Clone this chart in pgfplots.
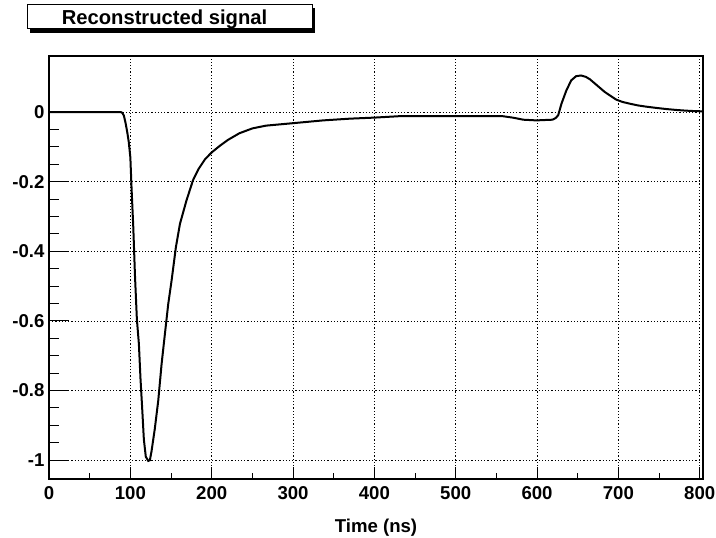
\documentclass[border=0pt]{standalone}
\usepackage{pgfplots}
\pgfplotsset{compat=1.18}
\usepackage{fontspec}
\setmainfont{Liberation Sans}
\pgfplotstableread{
t v
0 0
88 0
90 -0.002
92 -0.01
94 -0.03
96 -0.055
98 -0.085
100 -0.13
101.6 -0.225
103.6 -0.33
105.7 -0.47
108 -0.594
110.5 -0.666
112.5 -0.767
114.6 -0.853
116.6 -0.94
119 -0.99
122 -1.002
124 -1.0
126 -0.975
130 -0.911
134.3 -0.829
138.4 -0.724
142.5 -0.637
146.6 -0.551
150.7 -0.484
156 -0.388
161 -0.321
169 -0.254
177 -0.196
184 -0.163
192 -0.135
200 -0.116
210 -0.097
220 -0.08
234 -0.061
250 -0.047
267 -0.039
300 -0.032
337 -0.024
370 -0.019
400 -0.016
430 -0.012
470 -0.012
500 -0.012
530 -0.012
558 -0.012
570 -0.016
583 -0.022
599 -0.024
619 -0.022
623 -0.017
626 -0.009
630 0.024
636 0.062
642 0.091
648 0.103
654 0.105
660 0.101
665 0.094
671 0.082
677 0.070
683 0.058
690 0.047
697 0.036
705 0.029
714 0.024
724 0.019
734 0.0155
746 0.012
759 0.0086
771 0.006
783 0.004
795 0.0025
804 0.002
}\signal
\begin{document}
\begin{tikzpicture}[x=1bp,y=1bp]
\path[use as bounding box] (0,0) rectangle (716,538);
% title box
\fill[black] (30,505) rectangle (315,530);
\draw[fill=white,line width=1bp] (27,509) rectangle (312,533);
\node[anchor=base,inner sep=0] at (164.5,513) {\fontsize{20.2bp}{23bp}\selectfont\bfseries Reconstructed signal};
\begin{axis}[
  at={(49bp,59bp)}, anchor=south west,
  scale only axis, width=654bp, height=423bp,
  xmin=0, xmax=804, ymin=-1.054, ymax=0.161,
  xtick={0,100,200,300,400,500,600,700,800},
  xticklabels={0,100,200,300,400,500,600,700,800},
  ytick={-1,-0.8,-0.6,-0.4,-0.2,0},
  yticklabels={-1,-0.8,-0.6,-0.4,-0.2,0},
  minor x tick num=1,
  minor y tick num=3,
  tick pos=left, tick align=inside,
  major tick length=12bp, minor tick length=6bp,
  every tick/.style={black, line width=1bp},
  y tick style={draw=none},
  minor y tick style={draw=none},
  grid=major,
  major grid style={black, line width=0.7bp, dash pattern=on 1.2bp off 2bp},
  axis line style={line width=1.4bp},
  ticklabel style={font=\fontsize{18.6bp}{20bp}\selectfont\bfseries},
  xticklabel style={yshift=-4bp},
  yticklabel style={xshift=-1bp},
  xlabel={Time (ns)},
  xlabel style={at={(rel axis cs:0.5,0)}, anchor=north, inner sep=0, yshift=-40bp,
    font=\fontsize{18.6bp}{20bp}\selectfont\bfseries},
]
\addplot[black, line width=2bp, mark=none] table[x=t,y=v] {\signal};
\end{axis}
\begin{axis}[
  at={(49bp,59bp)}, anchor=south west,
  scale only axis, width=654bp, height=423bp,
  xmin=0, xmax=804, ymin=-1.054, ymax=0.161,
  xtick=\empty, xticklabels={},
  ytick={-1,-0.8,-0.6,-0.4,-0.2,0},
  yticklabels={},
  minor y tick num=3,
  ytick pos=left, tick align=inside,
  major tick length=20bp, minor tick length=10bp,
  every tick/.style={black, line width=1bp},
  axis line style={draw=none},
]
\end{axis}
\end{tikzpicture}
\end{document}
